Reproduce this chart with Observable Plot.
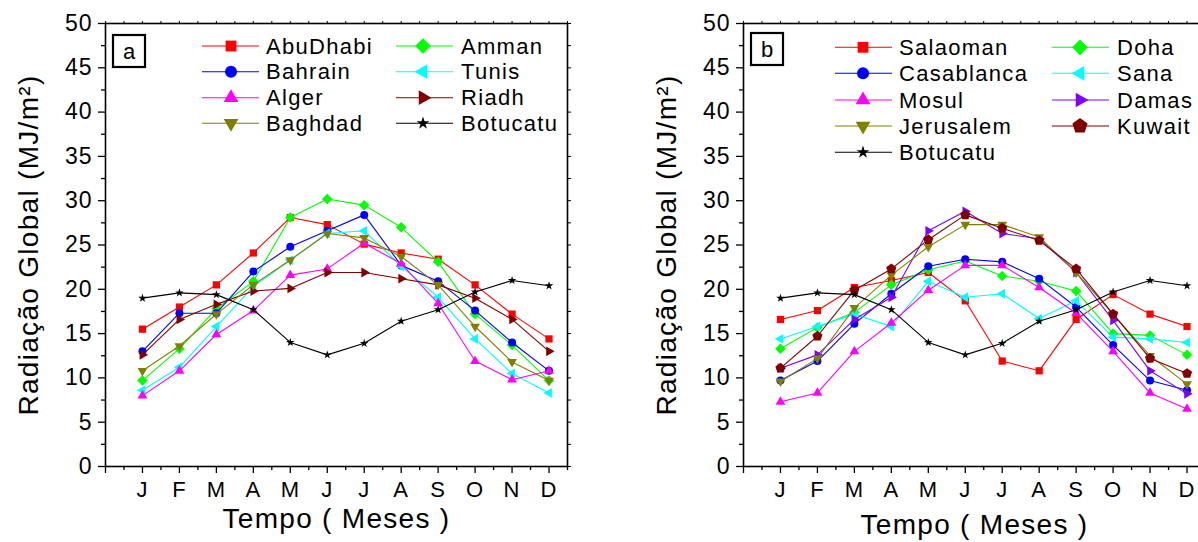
<!DOCTYPE html>
<html><head><meta charset="utf-8">
<script src="https://cdn.jsdelivr.net/npm/d3@7"></script>
<script src="https://cdn.jsdelivr.net/npm/@observablehq/plot@0.6"></script>
<style>
html,body{margin:0;padding:0;background:#fff;overflow:hidden}
#wrap{position:relative;width:1198px;height:542px;overflow:hidden;background:#fff}
</style></head><body><div id="wrap"></div>
<script>
// ---- data ----
const months = ["J","F","M","A","M","J","J","A","S","O","N","D"];
const yMajor = [0,5,10,15,20,25,30,35,40,45,50];
const yMinor = [2.5,7.5,12.5,17.5,22.5,27.5,32.5,37.5,42.5,47.5];
const xTitle = "Tempo ( Meses )";
const yTitle = "Radiação Global (MJ/m²)";

// panel a
const abuDhabi = [15.5, 18.0, 20.5, 24.1, 28.1, 27.3, 25.1, 24.1, 23.4, 20.5, 17.2, 14.4];
const amman    = [9.7, 13.3, 17.8, 20.9, 28.1, 30.2, 29.5, 27.0, 23.1, 17.2, 13.7, 9.7];
const bahrain  = [13.0, 17.3, 17.3, 22.0, 24.8, 26.6, 28.4, 22.7, 20.9, 17.6, 14.0, 10.8];
const tunis    = [8.6, 11.2, 15.8, 20.3, 23.3, 26.3, 26.6, 22.6, 19.1, 14.4, 10.5, 8.3];
const alger    = [8.0, 10.8, 14.9, 17.6, 21.6, 22.3, 25.2, 22.9, 18.4, 11.9, 9.8, 10.8];
const riadh    = [12.6, 16.6, 18.3, 19.8, 20.1, 21.9, 21.9, 21.2, 20.5, 19.0, 16.6, 13.0];
const baghdad  = [10.8, 13.6, 17.2, 20.5, 23.3, 26.3, 25.8, 23.7, 20.5, 15.8, 11.8, 9.7];
const botucatu = [19.0, 19.6, 19.4, 17.7, 14.0, 12.6, 13.9, 16.4, 17.7, 19.7, 21.0, 20.4];

// panel b
const salaoman   = [16.6, 17.6, 20.2, 21.0, 21.9, 18.7, 11.9, 10.8, 16.6, 19.4, 17.2, 15.8];
const doha       = [13.3, 15.7, 17.4, 20.5, 22.2, 23.2, 21.5, 20.9, 19.8, 15.0, 14.8, 12.6];
const casablanca = [9.7, 11.9, 16.1, 19.5, 22.6, 23.4, 23.1, 21.2, 18.0, 13.7, 9.7, 8.6];
const sana       = [14.4, 15.8, 17.2, 15.8, 20.9, 19.1, 19.5, 16.7, 18.7, 14.6, 14.4, 14.0];
const mosul      = [7.3, 8.3, 13.0, 16.2, 19.9, 22.7, 22.7, 20.2, 17.3, 13.0, 8.3, 6.5];
const damas      = [11.1, 12.6, 16.6, 19.1, 26.6, 28.8, 26.3, 25.7, 21.9, 16.5, 10.8, 8.2];
const jerusalem  = [9.6, 12.2, 17.9, 21.6, 24.8, 27.3, 27.3, 25.9, 21.9, 17.2, 12.5, 9.3];
const kuwait     = [11.1, 14.7, 19.9, 22.3, 25.6, 28.4, 26.9, 25.5, 22.3, 17.2, 12.2, 10.5];

// ---- symbols ----
function poly(n, rot, k) {
  return {draw(ctx, size) {
    const R = Math.sqrt(size) * k;
    for (let i = 0; i < n; i++) {
      const a = rot + i * 2 * Math.PI / n;
      const x = R * Math.cos(a), y = R * Math.sin(a);
      if (i) ctx.lineTo(x, y); else ctx.moveTo(x, y);
    }
    ctx.closePath();
  }};
}
const SYM = {
  square: poly(4, Math.PI / 4, 0.72),
  diamond: poly(4, -Math.PI / 2, 0.74),
  circle: d3.symbolCircle,
  triUp: poly(3, -Math.PI / 2, 0.8),
  triDown: poly(3, Math.PI / 2, 0.8),
  triLeft: poly(3, Math.PI, 0.8),
  triRight: poly(3, 0, 0.8),
  pentagon: poly(5, -Math.PI / 2, 0.75),
  star: {draw(ctx, size) { d3.symbolStar.draw(ctx, size * 0.45); }}
};

const panelA = [
  {name: "AbuDhabi", values: abuDhabi, color: "#FF0000", sym: "square"},
  {name: "Amman", values: amman, color: "#00FF00", sym: "diamond"},
  {name: "Bahrain", values: bahrain, color: "#0000FF", sym: "circle"},
  {name: "Tunis", values: tunis, color: "#00FFFF", sym: "triLeft"},
  {name: "Alger", values: alger, color: "#FF00FF", sym: "triUp"},
  {name: "Riadh", values: riadh, color: "#800000", sym: "triRight"},
  {name: "Baghdad", values: baghdad, color: "#808000", sym: "triDown"},
  {name: "Botucatu", values: botucatu, color: "#000000", sym: "star"}
];
const panelB = [
  {name: "Salaoman", values: salaoman, color: "#FF0000", sym: "square"},
  {name: "Doha", values: doha, color: "#00FF00", sym: "diamond"},
  {name: "Casablanca", values: casablanca, color: "#0000FF", sym: "circle"},
  {name: "Sana", values: sana, color: "#00FFFF", sym: "triLeft"},
  {name: "Mosul", values: mosul, color: "#FF00FF", sym: "triUp"},
  {name: "Damas", values: damas, color: "#8000FF", sym: "triRight"},
  {name: "Jerusalem", values: jerusalem, color: "#808000", sym: "triDown"},
  {name: "Kuwait", values: kuwait, color: "#800000", sym: "pentagon"},
  {name: "Botucatu", values: botucatu, color: "#000000", sym: "star"}
];

const FONT = "'Liberation Sans', Arial, Helvetica, sans-serif";

function makePlot(series, titleDy) {
  const marks = [];
  for (const s of series) {
    const data = s.values.map((v, i) => ({month: i + 1, value: v}));
    marks.push(Plot.line(data, {x: d => d.month, y: d => d.value, stroke: s.color, strokeWidth: 1.1}));
    marks.push(Plot.dot(data, {x: d => d.month, y: d => d.value, symbol: SYM[s.sym], r: 4, fill: s.color, stroke: "none"}));
  }
  const svg = Plot.plot({
    width: 600, height: 542,
    marginLeft: 105, marginRight: 33, marginTop: 23, marginBottom: 76,
    x: {domain: [0, 12.5]},
    y: {domain: [0, 50]},
    style: {fontFamily: FONT, fontSize: "23px", color: "#000", background: "transparent", overflow: "visible"},
    marks: [
      Plot.axisY({ticks: yMajor, tickSize: 7, tickPadding: 6, fontSize: 23, label: null, strokeWidth: 1.3, tickFormat: d => String(d)}),
      Plot.axisY({ticks: yMinor, tickSize: 4, label: null, strokeWidth: 1.3, tickFormat: () => ""}),
      Plot.axisY({anchor: "right", ticks: yMajor.concat(yMinor), tickSize: 3, label: null, tickFormat: () => ""}),
      Plot.axisX({ticks: d3.range(0, 13), tickSize: 7, tickPadding: 8, fontSize: 22, label: null, strokeWidth: 1.3, tickFormat: d => d >= 1 ? months[d - 1] : ""}),
      Plot.axisX({ticks: d3.range(0.5, 12.6, 1), tickSize: 4, label: null, strokeWidth: 1.3, tickFormat: () => ""}),
      Plot.axisX({anchor: "top", ticks: d3.range(0, 12.6, 0.5), tickSize: 3, label: null, tickFormat: () => ""}),
      ...marks,
      Plot.frame({strokeWidth: 1.6}),
      Plot.text([xTitle], {text: d => d, frameAnchor: "bottom", dy: titleDy, fontSize: 28, textAnchor: "middle", lineAnchor: "middle"}),
      Plot.text([yTitle], {text: d => d, frameAnchor: "left", dx: -76, rotate: -90, fontSize: 28, textAnchor: "middle", lineAnchor: "middle"})
    ]
  });
  d3.select(svg).selectAll("text").each(function() {
    const t = this.textContent;
    this.style.letterSpacing = (t.startsWith("Tempo") || t.startsWith("Radia")) ? "1.3px" : "1px";
  });
  svg.style.position = "absolute";
  svg.style.top = "0px";
  return svg;
}

const wrap = document.getElementById("wrap");
const svgA = makePlot(panelA, 53);
svgA.style.left = "0px";
wrap.appendChild(svgA);
const svgB = makePlot(panelB, 59);
svgB.style.left = "638px";
wrap.appendChild(svgB);

// ---- legends (overlay) ----
const overlay = d3.create("svg").attr("width", 1198).attr("height", 542)
  .style("position", "absolute").style("left", "0px").style("top", "0px")
  .style("font-family", FONT);

function legend(series, ox, rows, cols, letter, boxY) {
  const g = overlay.append("g").attr("transform", `translate(${ox},0)`);
  g.append("rect").attr("x", 113).attr("y", boxY).attr("width", 32).attr("height", 32)
    .attr("fill", "white").attr("stroke", "black").attr("stroke-width", 2.2);
  g.append("text").attr("x", 129).attr("y", boxY + 16).attr("text-anchor", "middle")
    .attr("dominant-baseline", "central").attr("font-size", 22).text(letter);
  series.forEach((s, i) => {
    const r = Math.floor(i / 2), c = cols[i % 2];
    const y = rows[r];
    g.append("line").attr("x1", c.x1).attr("x2", c.x2).attr("y1", y).attr("y2", y)
      .attr("stroke", s.color).attr("stroke-width", 1.1);
    g.append("path").attr("d", d3.symbol(SYM[s.sym], Math.PI * 36)())
      .attr("transform", `translate(${c.m},${y})`).attr("fill", s.color);
    g.append("text").attr("x", c.t).attr("y", y).attr("dominant-baseline", "central")
      .attr("font-size", 22).style("letter-spacing", "1.3px").text(s.name);
  });
}
legend(panelA, 0, [46, 71.7, 97.7, 123.3],
  [{x1: 202, x2: 259, m: 231, t: 266}, {x1: 396, x2: 453, m: 423, t: 461}], "a", 35);
legend(panelB, 638, [47.3, 73.3, 100, 126, 152.3],
  [{x1: 197, x2: 254, m: 225, t: 261}, {x1: 414, x2: 471, m: 442, t: 479}], "b", 33);
wrap.appendChild(overlay.node());
</script></body></html>
